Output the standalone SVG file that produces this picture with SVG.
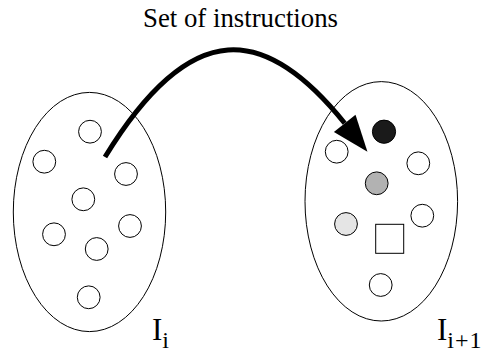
<svg xmlns="http://www.w3.org/2000/svg" width="489" height="354" viewBox="0 0 489 354">
  <style>
    .set { fill: none; stroke: #000; stroke-width: 1; }
    .item { fill: #fff; stroke: #000; stroke-width: 1; }
    .label { font-family: "Liberation Serif", "Times New Roman", "DejaVu Serif", serif; fill: #000; }
    .flow { fill: none; stroke: #000; stroke-width: 5; }
  </style>
  <defs>
    <marker id="head" markerUnits="userSpaceOnUse" markerWidth="40" markerHeight="30" viewBox="0 -13 33 26" refX="0" refY="0" orient="auto">
      <path d="M0,-12 L31.5,0 L0,12 Z" fill="#000"/>
    </marker>
  </defs>

  <text class="label" x="143" y="26.5" font-size="26.8">Set of instructions</text>

  <!-- state I_i -->
  <g id="state-i">
    <ellipse class="set" cx="89.5" cy="212" rx="76.2" ry="119.6"/>
    <circle class="item" cx="90" cy="131.7" r="11.4"/>
    <circle class="item" cx="44.3" cy="161.7" r="11.4"/>
    <circle class="item" cx="126" cy="174" r="11.4"/>
    <circle class="item" cx="83.3" cy="199.3" r="11.4"/>
    <circle class="item" cx="54" cy="234.3" r="11.4"/>
    <circle class="item" cx="130" cy="226" r="11.4"/>
    <circle class="item" cx="96.7" cy="249" r="11.4"/>
    <circle class="item" cx="88.7" cy="297.3" r="11.4"/>
    <text class="label" x="152" y="339.5" font-size="31">I<tspan font-size="24" dy="8.5">i</tspan></text>
  </g>

  <!-- state I_{i+1} -->
  <g id="state-i1">
    <ellipse class="set" cx="381.3" cy="201.3" rx="76.3" ry="119.7"/>
    <circle class="item" cx="384" cy="131.7" r="11.6" style="fill:#1a1a1a"/>
    <circle class="item" cx="336.7" cy="151.7" r="11.4"/>
    <circle class="item" cx="418.3" cy="163.3" r="11.4"/>
    <circle class="item" cx="376.7" cy="183.3" r="11.4" style="fill:#b2b2b2"/>
    <circle class="item" cx="422.3" cy="215.7" r="11.4"/>
    <circle class="item" cx="346" cy="224" r="11.4" style="fill:#e5e5e5"/>
    <rect class="item" x="375.7" y="224.3" width="28" height="29"/>
    <circle class="item" cx="380.7" cy="285" r="11.4"/>
    <text class="label" x="437" y="339.5" font-size="31">I<tspan font-size="24" dy="8.5" letter-spacing="1">i+1</tspan></text>
  </g>

  <!-- transition -->
  <g id="connectors">
    <path class="flow" d="M105,157 C192,14.5 266.1,25.3 344.7,123.3" marker-end="url(#head)"/>
  </g>
</svg>
